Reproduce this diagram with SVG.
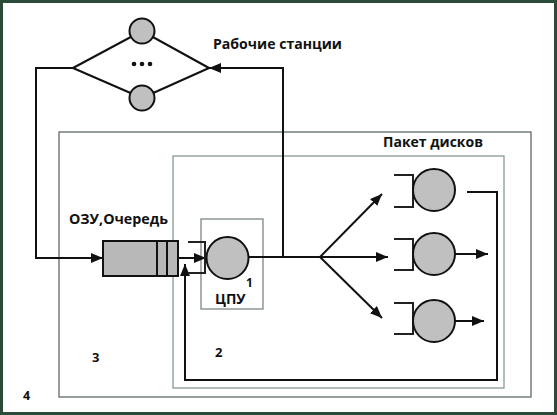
<svg xmlns="http://www.w3.org/2000/svg" width="557" height="415" viewBox="0 0 557 415">
<style>
.ln{fill:none;stroke:#111;stroke-width:2}
.nd{fill:#c0c0c0;stroke:#111;stroke-width:2}
.br{fill:none;stroke:#222;stroke-width:2}
.t{font-family:"Open Sans","Noto Sans",sans-serif;font-weight:bold;fill:#111}
</style>
<defs>
<marker id="ah" markerWidth="12" markerHeight="10" refX="12" refY="5" orient="auto" markerUnits="userSpaceOnUse">
<path d="M0,0 L12,5 L0,10 Z" fill="#111"/>
</marker>
</defs>
<rect x="0" y="0" width="557" height="415" fill="#fff"/>
<rect x="1.5" y="1.5" width="554" height="412" fill="none" stroke="#2b4a38" stroke-width="3"/>
<g id="frames">
<rect x="59" y="132" width="472" height="265" fill="none" stroke="#5f6b66" stroke-width="1.3"/>
<rect x="173" y="156" width="331" height="232" fill="none" stroke="#8a9a93" stroke-width="1.3"/>
<rect x="201" y="219" width="62" height="90" fill="none" stroke="#6f7d77" stroke-width="1.2"/>
</g>
<g id="connectors">
<polyline class="ln" points="73,68 36,68 36,258 103,258" marker-end="url(#ah)"/>
<polyline class="ln" points="283,257 283,68 209,68" marker-end="url(#ah)"/>
<line class="ln" x1="178" y1="258" x2="206" y2="258" marker-end="url(#ah)"/>
<line class="ln" x1="248" y1="257" x2="320" y2="257"/>
<line class="ln" x1="320" y1="257" x2="382" y2="194" marker-end="url(#ah)"/>
<line class="ln" x1="320" y1="257" x2="388" y2="257" marker-end="url(#ah)"/>
<line class="ln" x1="320" y1="257" x2="382" y2="318" marker-end="url(#ah)"/>
<line class="ln" x1="455" y1="254" x2="488" y2="254" marker-end="url(#ah)"/>
<line class="ln" x1="455" y1="321" x2="484" y2="321" marker-end="url(#ah)"/>
<polyline class="ln" points="467,192 497,192 497,380 185,380 185,264" marker-end="url(#ah)"/>
</g>
<g id="workstations">
<line class="ln" x1="73" y1="68" x2="142" y2="31"/>
<line class="ln" x1="209" y1="68" x2="142" y2="31"/>
<line class="ln" x1="73" y1="68" x2="142" y2="98"/>
<line class="ln" x1="209" y1="68" x2="142" y2="98"/>
<circle class="nd" cx="142" cy="31" r="12.5"/>
<circle class="nd" cx="142" cy="98" r="12.5"/>
<circle cx="134" cy="64" r="2.3" fill="#111"/>
<circle cx="142" cy="64" r="2.3" fill="#111"/>
<circle cx="150" cy="64" r="2.3" fill="#111"/>
</g>
<g id="queue">
<rect x="103" y="241" width="75" height="35" fill="#b8b8b8" stroke="#111" stroke-width="2"/>
<line class="ln" x1="157" y1="241" x2="157" y2="276"/>
<line class="ln" x1="167" y1="241" x2="167" y2="276"/>
</g>
<g id="cpu">
<polyline class="br" points="188,242 205,242 205,273 188,273"/>
<circle class="nd" cx="227.5" cy="258" r="21"/>
</g>
<g id="disk1">
<polyline class="br" points="394,175 413,175 413,207 394,207"/>
<circle class="nd" cx="434" cy="190" r="21"/>
</g>
<g id="disk2">
<polyline class="br" points="394,239 413,239 413,270 394,270"/>
<circle class="nd" cx="434" cy="254" r="21"/>
</g>
<g id="disk3">
<polyline class="br" points="394,303 413,303 413,334 394,334"/>
<circle class="nd" cx="434" cy="321" r="21"/>
</g>
<g id="labels">
<text class="t" x="213" y="49" font-size="14.5" textLength="129" lengthAdjust="spacingAndGlyphs">Рабочие станции</text>
<text class="t" x="383" y="147" font-size="14" textLength="100" lengthAdjust="spacingAndGlyphs">Пакет дисков</text>
<text class="t" x="69" y="224" font-size="14.5" textLength="99" lengthAdjust="spacingAndGlyphs">ОЗУ,Очередь</text>
<text class="t" x="246" y="287" font-size="12">1</text>
<text class="t" x="215" y="304" font-size="14">ЦПУ</text>
<text class="t" x="215" y="357" font-size="13">2</text>
<text class="t" x="92" y="362" font-size="13">3</text>
<text class="t" x="23" y="400" font-size="12.5">4</text>
</g>
</svg>
